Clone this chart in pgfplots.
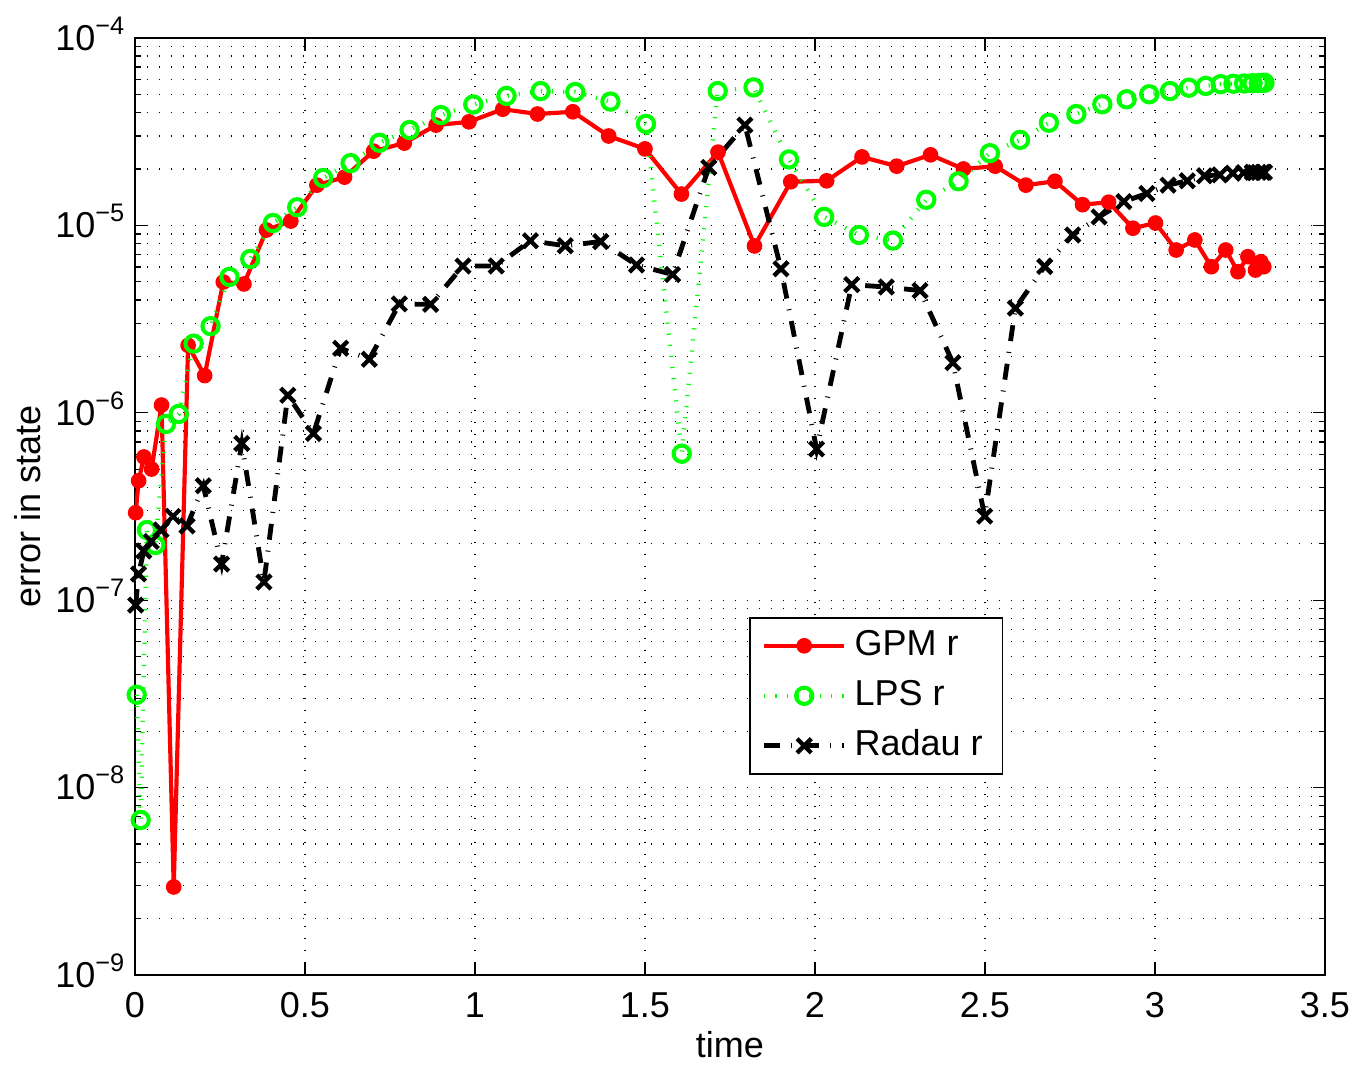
\documentclass[border=0pt]{standalone}
\usepackage{fontspec}
\setmainfont{Liberation Sans}
\usepackage{pgfplots}
\pgfplotsset{compat=1.18}

% decade tick label: 10 with a raised, smaller exponent
\newcommand{\dec}[1]{10\smash{\raisebox{4.8pt}{\fontsize{7.6}{8}\selectfont −#1}}}
\newcommand{\lblfont}{\fontsize{10.8}{13}\selectfont}

% state error of the three transcriptions: t, error
\pgfplotstableread{
t err
0.0020 2.93e-7
0.0107 4.34e-7
0.0263 5.81e-7
0.0488 5.01e-7
0.0780 1.10e-6
0.1139 2.95e-9
0.1562 2.29e-6
0.2049 1.58e-6
0.2597 4.99e-6
0.3204 4.87e-6
0.3869 9.45e-6
0.4583 1.055e-5
0.5350 1.64e-5
0.6163 1.81e-5
0.7017 2.49e-5
0.7920 2.75e-5
0.8854 3.43e-5
0.9822 3.57e-5
1.0817 4.17e-5
1.1837 3.93e-5
1.2876 4.04e-5
1.3932 3.00e-5
1.4999 2.56e-5
1.6072 1.47e-5
1.7148 2.46e-5
1.8221 7.77e-6
1.9288 1.71e-5
2.0344 1.73e-5
2.1383 2.32e-5
2.2403 2.07e-5
2.3398 2.38e-5
2.4366 2.00e-5
2.5300 2.07e-5
2.6203 1.64e-5
2.7057 1.72e-5
2.7870 1.29e-5
2.8637 1.33e-5
2.9351 9.66e-6
3.0016 1.03e-5
3.0623 7.39e-6
3.1171 8.36e-6
3.1658 6.02e-6
3.2081 7.39e-6
3.2440 5.66e-6
3.2732 6.81e-6
3.2957 5.78e-6
3.3113 6.40e-6
3.3200 6.02e-6
}\gpm

\pgfplotstableread{
t err
0.0050 3.13e-8
0.0167 6.72e-9
0.0350 2.37e-7
0.0598 1.97e-7
0.0911 8.71e-7
0.1287 9.86e-7
0.1725 2.34e-6
0.2223 2.90e-6
0.2779 5.31e-6
0.3390 6.62e-6
0.4055 1.03e-5
0.4770 1.25e-5
0.5533 1.79e-5
0.6340 2.15e-5
0.7189 2.76e-5
0.8076 3.23e-5
0.8997 3.88e-5
0.9949 4.42e-5
1.0927 4.91e-5
1.1929 5.21e-5
1.2949 5.15e-5
1.3984 4.58e-5
1.5029 3.48e-5
1.6081 6.05e-7
1.7139 5.21e-5
1.8191 5.45e-5
1.9236 2.25e-5
2.0271 1.11e-5
2.1292 8.89e-6
2.2293 8.30e-6
2.3271 1.37e-5
2.4223 1.72e-5
2.5144 2.43e-5
2.6031 2.86e-5
2.6880 3.53e-5
2.7687 3.93e-5
2.8450 4.43e-5
2.9165 4.71e-5
2.9830 5.01e-5
3.0441 5.21e-5
3.0997 5.43e-5
3.1495 5.55e-5
3.1933 5.67e-5
3.2309 5.70e-5
3.2622 5.72e-5
3.2870 5.74e-5
3.3053 5.75e-5
3.3170 5.76e-5
3.3220 5.77e-5
}\lps

\pgfplotstableread{
t err
0.0020 9.42e-8
0.0105 1.38e-7
0.0258 1.83e-7
0.0479 2.06e-7
0.0765 2.37e-7
0.1117 2.80e-7
0.1532 2.49e-7
0.2009 4.08e-7
0.2547 1.56e-7
0.3142 6.86e-7
0.3792 1.25e-7
0.4495 1.24e-6
0.5248 7.76e-7
0.6048 2.21e-6
0.6891 1.93e-6
0.7774 3.81e-6
0.8693 3.79e-6
0.9645 6.07e-6
1.0625 6.07e-6
1.1630 8.28e-6
1.2656 7.79e-6
1.3697 8.20e-6
1.4751 6.15e-6
1.5812 5.47e-6
1.6877 2.04e-5
1.7940 3.43e-5
1.8998 5.87e-6
2.0047 6.41e-7
2.1081 4.83e-6
2.2096 4.69e-6
2.3090 4.49e-6
2.4056 1.85e-6
2.4992 2.81e-7
2.5894 3.62e-6
2.6757 6.04e-6
2.7579 8.89e-6
2.8355 1.11e-5
2.9084 1.34e-5
2.9761 1.48e-5
3.0384 1.64e-5
3.0950 1.73e-5
3.1458 1.84e-5
3.1904 1.86e-5
3.2288 1.90e-5
3.2607 1.91e-5
3.2861 1.92e-5
3.3048 1.92e-5
3.3167 1.92e-5
3.3220 1.92e-5
}\radau

\begin{document}
\lblfont
\begin{tikzpicture}
\begin{axis}[
  at={(0,0)}, anchor=south west,
  scale only axis, width=357pt, height=281.1pt,
  xmin=0, xmax=3.5, ymin=1e-9, ymax=1e-4,
  ymode=log,
  xtick={0,0.5,1,1.5,2,2.5,3,3.5},
  xticklabels={0,0.5,1,1.5,2,2.5,3,3.5},
  ytick={1e-9,1e-8,1e-7,1e-6,1e-5,1e-4},
  yticklabels={\dec{9},\dec{8},\dec{7},\dec{6},\dec{5},\dec{4}},
  minor ytick={2e-9,3e-9,4e-9,5e-9,6e-9,7e-9,8e-9,9e-9,
               2e-8,3e-8,4e-8,5e-8,6e-8,7e-8,8e-8,9e-8,
               2e-7,3e-7,4e-7,5e-7,6e-7,7e-7,8e-7,9e-7,
               2e-6,3e-6,4e-6,5e-6,6e-6,7e-6,8e-6,9e-6,
               2e-5,3e-5,4e-5,5e-5,6e-5,7e-5,8e-5,9e-5},
  tick align=inside,
  major tick length=3.6pt, minor tick length=1.8pt,
  every tick/.style={black, line width=0.4pt},
  axis line style={black, line width=0.45pt},
  tick label style={font=\lblfont},
  xticklabel style={yshift=-1.5pt},
  yticklabel style={xshift=0.6pt},
  grid=both,
  major grid style={black, line width=0.4pt, dash pattern=on 0.4pt off 3.2pt},
  minor grid style={black, line width=0.4pt, dash pattern=on 0.4pt off 3.2pt},
  xlabel={time}, ylabel={error in state},
  every axis x label/.style={at={(axis description cs:0.5,-0.0747)}, anchor=center, font=\lblfont},
  every axis y label/.style={at={(axis description cs:-0.0899,0.5)}, rotate=90, anchor=center, font=\lblfont},
  legend image code/.code={\draw[mark repeat=2,mark phase=2,#1] plot coordinates {(0pt,0pt) (12pt,0pt) (24pt,0pt)};},
  legend style={at={(rel axis cs:0.516,0.382)}, anchor=north west,
    draw=black, line width=0.45pt, fill=white, font=\lblfont,
    inner xsep=3.6pt, inner ysep=3.4pt, row sep=5pt,
    nodes={inner xsep=2.4pt, inner ysep=0pt, text height=8pt, text depth=2pt},
    cells={anchor=west}},
]
\addplot[red, line width=1.25pt, mark=*, mark size=2.15pt,
  mark options={solid, fill=red, draw=red, line width=0.4pt}]
  table[x=t, y=err] {\gpm};
\addlegendentry{GPM r}

\addplot[green, line width=1.3pt, dash pattern=on 0.35pt off 3pt,
  mark=o, mark size=2.45pt, mark options={solid, line width=1.2pt}]
  table[x=t, y=err] {\lps};
\addlegendentry{LPS r}

\addplot[black, line width=1.45pt, dash pattern=on 4.8pt off 3.3pt on 0.3pt off 3.3pt,
  mark=x, mark size=3pt, mark options={solid, line width=1.3pt}]
  table[x=t, y=err] {\radau};
\addlegendentry{Radau r}
\end{axis}
\pgfresetboundingbox
\path (-40.5pt,-27.9pt) rectangle (366.9pt,292.5pt);
\end{tikzpicture}
\end{document}
